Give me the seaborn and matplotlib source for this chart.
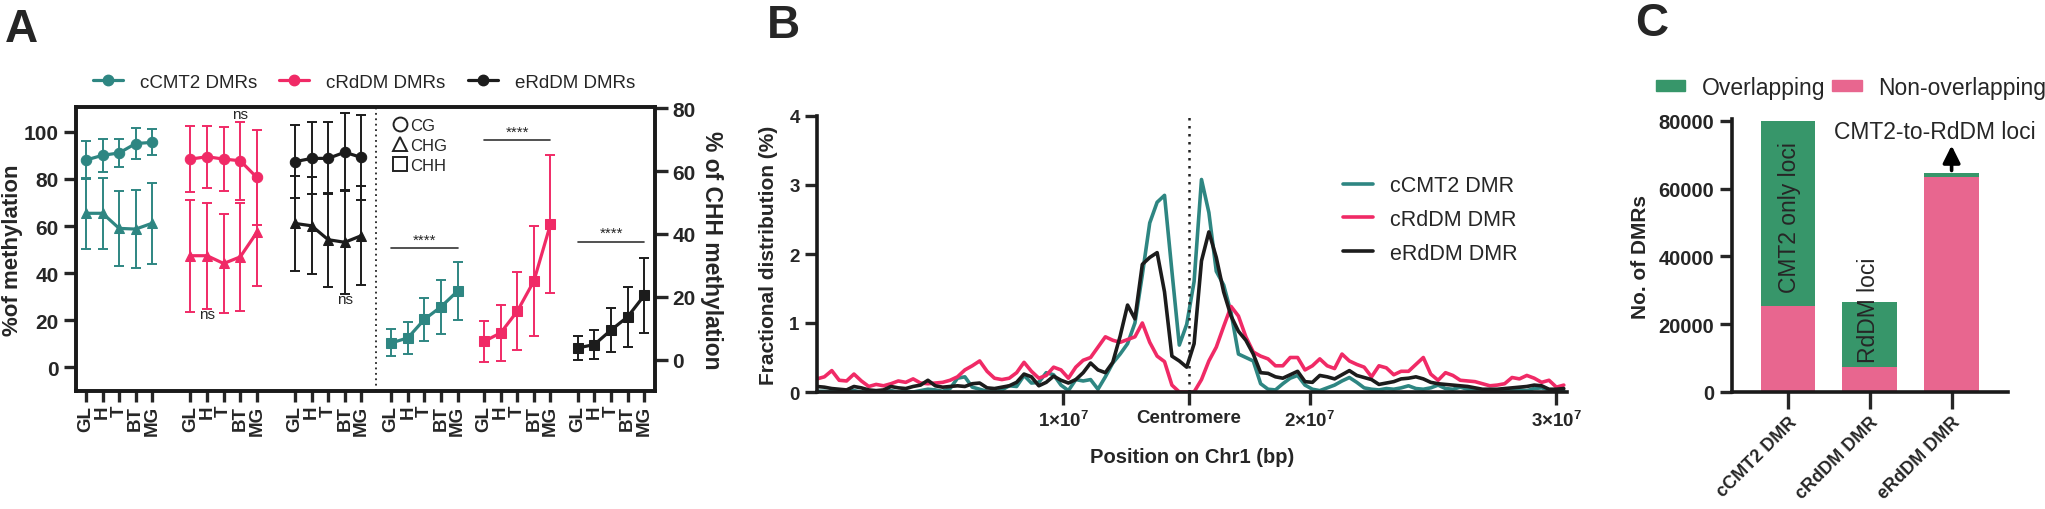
import matplotlib
matplotlib.use("Agg")
import matplotlib.pyplot as plt
import numpy as np
import pandas as pd
import seaborn as sns
from matplotlib.lines import Line2D
from matplotlib.patches import Patch

# ---------------- data ----------------
stages = ["GL", "H", "T", "BT", "MG"]

# panel A, % methylation (mean, sd) per stage
cmt2_cg = [88.0, 90.0, 91.0, 95.0, 95.5]
cmt2_cg_sd = [8.0, 7.0, 6.0, 6.5, 5.5]
cmt2_chg = [65.4, 65.4, 59.0, 58.7, 61.2]
cmt2_chg_sd = [15.0, 15.0, 16.0, 16.4, 17.2]
crddm_cg = [88.4, 89.4, 88.4, 87.7, 80.6]
crddm_cg_sd = [14.0, 13.1, 13.5, 16.5, 20.0]
crddm_chg = [47.4, 47.4, 44.1, 46.9, 57.3]
crddm_chg_sd = [23.8, 22.4, 20.8, 22.9, 22.7]
erddm_cg = [87.3, 88.7, 88.7, 91.3, 89.1]
erddm_cg_sd = [15.5, 15.3, 15.3, 16.6, 18.0]
erddm_chg = [61.1, 60.1, 54.2, 53.1, 55.9]
erddm_chg_sd = [20.3, 20.5, 20.0, 22.0, 21.0]
# % CHH methylation (right axis)
cmt2_chh = [5.3, 6.9, 12.8, 16.8, 21.8]
cmt2_chh_sd = [4.3, 5.2, 6.9, 8.6, 9.3]
crddm_chh = [5.8, 8.5, 15.4, 25.0, 43.1]
crddm_chh_sd = [6.6, 8.8, 12.4, 17.4, 21.9]
erddm_chh = [3.7, 4.8, 9.4, 13.6, 20.4]
erddm_chh_sd = [3.7, 4.6, 7.0, 9.5, 11.8]

# panel B, fractional distribution (%) along Chr1 in 0.3 Mb bins
bin_pos = np.arange(102) * 0.3e6
ccmt2_frac = [0.01, 0.01, 0.00, 0.00, 0.01, 0.02, 0.00, 0.00, 0.00, 0.01,
              0.02, 0.00, 0.01, 0.00, 0.02, 0.04, 0.03, 0.01, 0.05, 0.20,
              0.22, 0.07, 0.04, 0.01, 0.00, 0.03, 0.09, 0.08, 0.24, 0.13,
              0.14, 0.28, 0.25, 0.10, 0.02, 0.18, 0.16, 0.18, 0.04, 0.22,
              0.42, 0.55, 0.70, 1.00, 1.70, 2.45, 2.75, 2.85, 1.75, 0.68,
              0.98, 1.60, 3.08, 2.60, 1.75, 1.55, 1.15, 0.55, 0.50, 0.45,
              0.12, 0.04, 0.03, 0.12, 0.20, 0.24, 0.10, 0.04, 0.02, 0.06,
              0.10, 0.16, 0.21, 0.14, 0.06, 0.04, 0.03, 0.05, 0.04, 0.06,
              0.09, 0.05, 0.04, 0.06, 0.10, 0.05, 0.04, 0.07, 0.04, 0.03,
              0.02, 0.03, 0.02, 0.03, 0.02, 0.03, 0.02, 0.05, 0.06, 0.03,
              0.02, 0.02]
crddm_frac = [0.19, 0.22, 0.31, 0.17, 0.16, 0.26, 0.16, 0.08, 0.11, 0.09,
              0.12, 0.16, 0.14, 0.19, 0.13, 0.12, 0.13, 0.14, 0.17, 0.22,
              0.32, 0.38, 0.45, 0.30, 0.20, 0.18, 0.20, 0.28, 0.43, 0.30,
              0.20, 0.24, 0.36, 0.32, 0.20, 0.36, 0.46, 0.50, 0.65, 0.80,
              0.75, 0.72, 0.76, 0.80, 1.00, 0.72, 0.52, 0.44, 0.10, 0.00,
              0.00, 0.00, 0.18, 0.45, 0.65, 0.95, 1.24, 1.10, 0.80, 0.58,
              0.52, 0.48, 0.38, 0.38, 0.50, 0.50, 0.32, 0.38, 0.48, 0.38,
              0.34, 0.55, 0.45, 0.40, 0.36, 0.22, 0.38, 0.35, 0.25, 0.30,
              0.30, 0.40, 0.50, 0.26, 0.17, 0.28, 0.24, 0.17, 0.16, 0.15,
              0.12, 0.09, 0.10, 0.12, 0.21, 0.19, 0.24, 0.20, 0.14, 0.17,
              0.07, 0.10]
erddm_frac = [0.08, 0.07, 0.05, 0.04, 0.03, 0.08, 0.06, 0.03, 0.02, 0.03,
              0.08, 0.06, 0.05, 0.08, 0.10, 0.17, 0.09, 0.07, 0.08, 0.09,
              0.08, 0.12, 0.13, 0.06, 0.05, 0.07, 0.09, 0.14, 0.26, 0.22,
              0.09, 0.14, 0.23, 0.17, 0.13, 0.18, 0.28, 0.42, 0.32, 0.28,
              0.43, 0.81, 1.26, 1.06, 1.85, 1.95, 2.02, 1.45, 0.52, 0.45,
              0.36, 0.70, 1.90, 2.32, 1.95, 1.45, 1.10, 0.88, 0.75, 0.55,
              0.28, 0.27, 0.22, 0.20, 0.25, 0.30, 0.15, 0.14, 0.24, 0.22,
              0.19, 0.25, 0.31, 0.24, 0.21, 0.18, 0.11, 0.13, 0.15, 0.19,
              0.20, 0.22, 0.19, 0.14, 0.12, 0.11, 0.10, 0.09, 0.08, 0.06,
              0.04, 0.04, 0.04, 0.05, 0.06, 0.07, 0.08, 0.10, 0.09, 0.04,
              0.04, 0.05]
centromere = 15.1e6

# panel C, number of DMRs
dmr_cats = ["cCMT2 DMR", "cRdDM DMR", "eRdDM DMR"]
overlapping = [54700, 19200, 1000]
non_overlapping = [25300, 7300, 63500]

teal = "#2e8682"
pink = "#f02a66"
black = "#1c1c1c"
bar_green = "#37966a"
bar_pink = "#e8668f"

# ---------------- style ----------------
sns.set_style("ticks")
plt.rcParams["font.family"] = ["Liberation Sans", "DejaVu Sans"]
plt.rcParams["mathtext.fontset"] = "custom"
plt.rcParams["mathtext.rm"] = "Liberation Sans"
plt.rcParams["mathtext.bf"] = "Liberation Sans:bold"
plt.rcParams["axes.linewidth"] = 2.6
plt.rcParams["xtick.major.width"] = 2.4
plt.rcParams["ytick.major.width"] = 2.4
plt.rcParams["xtick.major.size"] = 7
plt.rcParams["ytick.major.size"] = 7
plt.rcParams["axes.edgecolor"] = "#1a1a1a"

fig = plt.figure(figsize=(20.45, 5.1), dpi=100)

# ================= panel A =================
axA = fig.add_axes([76 / 2045, 1 - 392 / 510, 579 / 2045, 284 / 510])
axA2 = axA.twinx()
group_start = [0, 6.3, 12.6, 18.4, 24.0, 29.65]
cols = [teal, pink, black]
cg_sets = [(cmt2_cg, cmt2_cg_sd), (crddm_cg, crddm_cg_sd), (erddm_cg, erddm_cg_sd)]
chg_sets = [(cmt2_chg, cmt2_chg_sd), (crddm_chg, crddm_chg_sd), (erddm_chg, erddm_chg_sd)]
chh_sets = [(cmt2_chh, cmt2_chh_sd), (crddm_chh, crddm_chh_sd), (erddm_chh, erddm_chh_sd)]

def draw_series(ax, xs, m, s, c, mk):
    ax.errorbar(xs, m, yerr=s, fmt="none", ecolor=c, elinewidth=1.4,
                capsize=3.6, capthick=1.4, zorder=2)
    sns.lineplot(x=xs, y=m, ax=ax, color=c, marker=mk, markersize=7.5,
                 markeredgecolor=c, linewidth=2.3, zorder=3, legend=False)

for i, c in enumerate(cols):
    xs = group_start[i] + np.arange(5)
    draw_series(axA, xs, cg_sets[i][0], cg_sets[i][1], c, "o")
    draw_series(axA, xs, chg_sets[i][0], chg_sets[i][1], c, "^")
    xs2 = group_start[3 + i] + np.arange(5)
    draw_series(axA2, xs2, chh_sets[i][0], chh_sets[i][1], c, "s")

axA.set_xlim(-0.6, 34.3)
axA.set_ylim(-10, 110.5)
axA2.set_ylim(-10, 80.4)
axA.set_yticks([0, 20, 40, 60, 80, 100])
axA2.set_yticks([0, 20, 40, 60, 80])
ticks = [g + k for g in group_start for k in range(5)]
axA.set_xticks(ticks)
axA.set_xticklabels(stages * 6, rotation=90, fontsize=13.5, fontweight="bold")
axA.tick_params(axis="y", labelsize=15, length=9)
axA2.tick_params(axis="y", labelsize=15, length=9)
for lab in axA.get_yticklabels() + axA2.get_yticklabels():
    lab.set_fontweight("bold")
axA.tick_params(axis="x", length=8, pad=2)
axA.set_ylabel("%of methylation", fontsize=16, fontweight="bold")
axA.yaxis.set_label_coords(-0.092, 0.5)
axA2.set_ylabel("% of CHH methylation", fontsize=16.5, fontweight="bold",
                rotation=270, labelpad=20)
axA.axvline(17.5, color="#222222", ls=(0, (1, 2)), lw=1.3)
for sp in list(axA.spines.values()) + list(axA2.spines.values()):
    sp.set_linewidth(2.6)

# significance marks (right axis units)
sig_y = [35.4, 69.8, 37.5]
for g, y in zip(group_start[3:], sig_y):
    axA2.plot([g, g + 4], [y, y], color="#333333", lw=1.2)
    axA2.text(g + 2, y + 0.5, "****", ha="center", va="bottom", fontsize=11)
axA.text(group_start[1] + 3, 104.5, "ns", ha="center", va="bottom", fontsize=11)
axA.text(group_start[1] + 1, 19.5, "ns", ha="center", va="bottom", fontsize=11)
axA.text(group_start[2] + 3, 26, "ns", ha="center", va="bottom", fontsize=11)

ctx_handles = [Line2D([], [], marker=m, ls="none", mfc="none", mec="#222222",
                      ms=10, mew=1.4) for m in ["o", "^", "s"]]
axA2.legend(ctx_handles, ["CG", "CHG", "CHH"], loc="upper left",
            bbox_to_anchor=(0.53, 0.985), frameon=False, fontsize=12,
            handletextpad=0.05, labelspacing=0.3, borderaxespad=0,
            handlelength=1.2)

grp_handles = [Line2D([], [], color=c, marker="o", lw=2.3, ms=7.5) for c in cols]
fig.legend(grp_handles, ["cCMT2 DMRs", "cRdDM DMRs", "eRdDM DMRs"],
           loc="center", bbox_to_anchor=(0.178, 0.837), ncol=3, frameon=False,
           fontsize=13.5, handlelength=1.6, handletextpad=0.9, columnspacing=1.2)

# ================= panel B =================
axB = fig.add_axes([817 / 2045, 1 - 393 / 510, 750 / 2045, 276 / 510])
frac_df = pd.DataFrame({
    "pos": np.concatenate([bin_pos] * 3),
    "frac": np.concatenate([ccmt2_frac, crddm_frac, erddm_frac]),
    "dmr": ["cCMT2 DMR"] * 102 + ["cRdDM DMR"] * 102 + ["eRdDM DMR"] * 102,
})
sns.lineplot(data=frac_df, x="pos", y="frac", hue="dmr", ax=axB,
             palette=[teal, pink, black], linewidth=2.6)
axB.axvline(centromere, ymin=0, ymax=1, color="#222222", ls=(0, (1, 2.2)), lw=1.8)
axB.set_xlim(0, 30.43e6)
axB.set_ylim(0, 4)
axB.set_yticks([0, 1, 2, 3, 4])
axB.set_xticks([1e7, centromere, 2e7, 3e7])
axB.set_xticklabels([r"1×10$^{\mathbf{7}}$", "Centromere",
                     r"2×10$^{\mathbf{7}}$", r"3×10$^{\mathbf{7}}$"])
axB.tick_params(labelsize=13.5, length=9)
for lab in axB.get_xticklabels() + axB.get_yticklabels():
    lab.set_fontweight("bold")
axB.set_xlabel("Position on Chr1 (bp)", fontsize=14.5, fontweight="bold", labelpad=12)
axB.set_ylabel("Fractional distribution (%)", fontsize=15, fontweight="bold", labelpad=8)
sns.despine(ax=axB)
axB.legend(loc="center left", bbox_to_anchor=(0.675, 0.625), frameon=False,
           fontsize=15.5, handlelength=1.4, handletextpad=0.8, labelspacing=0.6,
           title=None)

# ================= panel C =================
axC = fig.add_axes([1731.7 / 2045, 1 - 393 / 510, 276.3 / 2045, 271.3 / 510 * 80500 / 80000])
totals = [o + n for o, n in zip(overlapping, non_overlapping)]
sns.barplot(x=dmr_cats, y=totals, ax=axC, color=bar_green, width=0.67,
            saturation=1, linewidth=0)
sns.barplot(x=dmr_cats, y=non_overlapping, ax=axC, color=bar_pink, width=0.67,
            saturation=1, linewidth=0)
axC.set_xlim(-0.69, 2.69)
axC.set_ylim(0, 80500)
axC.set_yticks([0, 20000, 40000, 60000, 80000])
axC.tick_params(axis="y", labelsize=14.5, length=9)
axC.tick_params(axis="x", labelsize=13, length=12)
axC.set_xticks(range(3))
axC.set_xticklabels(dmr_cats, rotation=45, ha="right", rotation_mode="anchor")
for lab in axC.get_xticklabels() + axC.get_yticklabels():
    lab.set_fontweight("bold")
axC.set_ylabel("No. of DMRs", fontsize=15, fontweight="bold", labelpad=6)
sns.despine(ax=axC)
axC.text(0.02, 51600, "CMT2 only loci", rotation=90, ha="center", va="center", fontsize=16.5)
axC.text(0.98, 24500, "RdDM loci", rotation=90, ha="center", va="center", fontsize=16.5)
axC.text(1.80, 76700, "CMT2-to-RdDM loci", ha="center", va="center", fontsize=16.5)
axC.annotate("", xy=(2, 73500), xytext=(2, totals[2]),
             arrowprops=dict(arrowstyle="-|>", lw=2.6, color="black", mutation_scale=26))
fig.legend([Patch(color=bar_green), Patch(color=bar_pink)],
           ["Overlapping", "Non-overlapping"], loc="center",
           bbox_to_anchor=(0.905, 0.827), ncol=2, frameon=False, fontsize=16.5,
           handlelength=1.3, handleheight=0.35, handletextpad=0.7, columnspacing=0.3)

# panel letters
fig.text(5 / 2045, 1 - 8 / 510, "A", fontsize=33, fontweight="bold", va="top")
fig.text(767 / 2045, 1 - 4 / 510, "B", fontsize=33, fontweight="bold", va="top")
fig.text(1635 / 2045, 1 - 2 / 510, "C", fontsize=33, fontweight="bold", va="top")

fig.savefig("out.png", dpi=100)
